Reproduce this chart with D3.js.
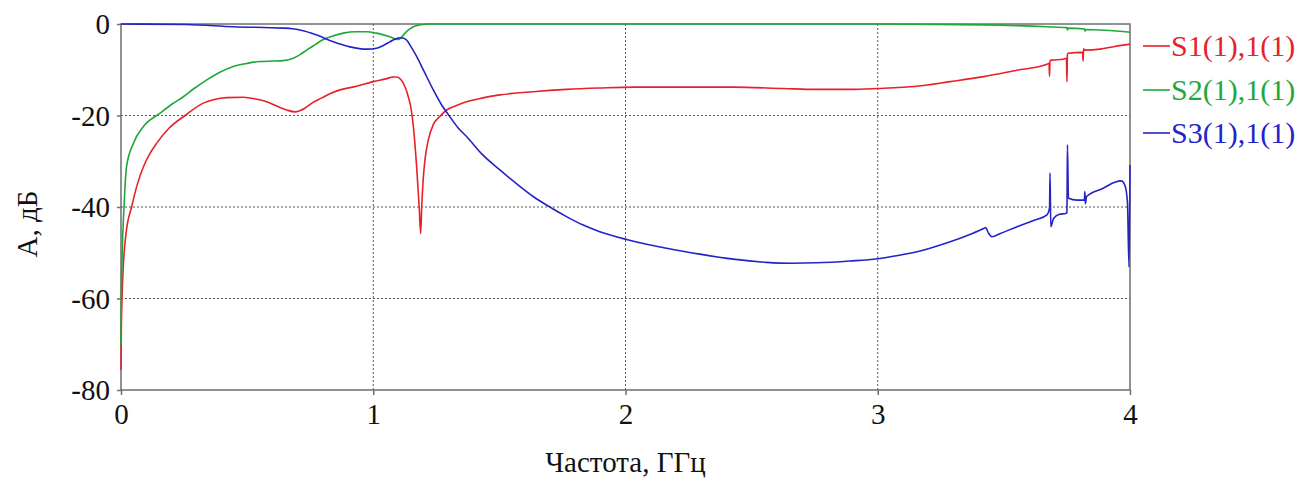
<!DOCTYPE html>
<html lang="ru">
<head>
    <meta charset="UTF-8">
    <script src="https://cdn.jsdelivr.net/npm/d3@7"></script>
    <title>S-parameters</title>
    <style>
        body { margin: 0; background: #fff; }
        svg text { font-family: "Liberation Serif", "Times New Roman", "DejaVu Serif", "Noto Serif", serif; }
        .grid line { stroke: #555; stroke-width: 1; stroke-dasharray: 2 2; }
        .axis path, .axis line { stroke: #6e6e6e; stroke-width: 1.5; }
    </style>
</head>
<body>
    <div id="chart"></div>

    <script>
        const xTicks = [0, 1, 2, 3, 4];
        const yTicks = [0, -20, -40, -60, -80];

        const seriesNames = ["S1(1),1(1)", "S2(1),1(1)", "S3(1),1(1)"];
        const seriesColors = ["#e8202a", "#1fa83a", "#2323c8"];

        // frequency (GHz), amplitude (dB)
        const s1 = [
            [0, -75.6], [0.001, -68], [0.004, -60], [0.009, -53], [0.02, -45.8], [0.042, -40],
            [0.065, -35], [0.089, -31.2], [0.115, -28.3], [0.141, -26.1], [0.19, -22.8],
            [0.254, -20], [0.326, -17.3], [0.37, -16.5], [0.419, -16.1], [0.485, -16.0],
            [0.535, -16.4], [0.577, -17.0], [0.62, -18.0], [0.657, -18.8], [0.69, -19.2],
            [0.729, -18.4], [0.76, -17.2], [0.795, -16.2], [0.83, -15.2], [0.868, -14.4],
            [0.934, -13.6], [1.0, -12.6], [1.05, -12.0], [1.079, -11.6], [1.092, -11.6],
            [1.11, -12.2], [1.125, -13.6], [1.139, -15.9], [1.15, -18.5], [1.159, -22.4],
            [1.172, -31.2], [1.182, -39.9], [1.188, -45.8], [1.192, -40], [1.198, -34],
            [1.205, -29.7], [1.218, -25.4], [1.238, -22.0], [1.264, -20.2], [1.291, -18.8],
            [1.33, -17.8], [1.37, -17.0], [1.43, -16.2], [1.502, -15.5], [1.634, -14.8],
            [1.766, -14.3], [1.898, -14.0], [2.031, -13.8], [2.229, -13.8], [2.427, -13.8],
            [2.625, -14.1], [2.757, -14.3], [2.889, -14.3], [3.0, -14.1], [3.155, -13.6],
            [3.287, -12.6], [3.42, -11.5], [3.551, -10.1], [3.671, -8.8], [3.679, -8.6],
            [3.681, -11.4], [3.683, -8.0], [3.689, -7.9], [3.735, -7.7], [3.748, -7.5],
            [3.75, -12.6], [3.752, -6.6], [3.755, -6.4], [3.812, -6.2], [3.814, -8.1],
            [3.816, -5.4], [3.82, -5.7], [3.881, -5.5], [3.94, -4.9], [4.0, -4.4]
        ];
        const s2 = [
            [0, -70.2], [0.001, -60.3], [0.004, -51.6], [0.012, -40], [0.022, -31.2],
            [0.049, -26.1], [0.089, -22.4], [0.155, -19.5], [0.2, -17.6], [0.247, -15.9],
            [0.29, -14.1], [0.34, -12.2], [0.39, -10.6], [0.445, -9.3], [0.5, -8.6],
            [0.551, -8.2], [0.6, -8.1], [0.643, -8.0], [0.683, -7.5], [0.71, -6.7],
            [0.736, -5.7], [0.77, -4.5], [0.802, -3.4], [0.84, -2.6], [0.881, -2.0],
            [0.93, -1.7], [0.974, -1.7], [1.013, -2.0], [1.066, -2.8], [1.099, -3.4],
            [1.112, -2.9], [1.126, -2.0], [1.142, -1.2], [1.159, -0.6], [1.18, -0.25],
            [1.198, -0.1], [1.225, 0], [2.0, 0], [3.0, 0], [3.11, -0.05], [3.42, -0.2],
            [3.671, -0.6], [3.75, -0.8], [3.752, -1.3], [3.754, -0.9], [3.82, -1.1],
            [3.822, -1.6], [3.824, -1.2], [4.0, -1.8]
        ];
        const s3 = [
            [0, 0], [0.26, -0.1], [0.445, -0.6], [0.643, -0.9], [0.68, -1.05], [0.709, -1.3],
            [0.776, -2.4], [0.842, -3.9], [0.908, -5.0], [0.974, -5.5], [1.013, -5.3],
            [1.04, -4.7], [1.066, -3.9], [1.09, -3.2], [1.106, -3.0], [1.12, -3.1],
            [1.132, -3.5], [1.15, -5.0], [1.172, -7.1], [1.2, -10.2], [1.238, -14.4],
            [1.27, -17.6], [1.304, -20.3], [1.335, -22.6], [1.37, -24.6], [1.43, -28.4],
            [1.502, -31.9], [1.57, -35.0], [1.634, -37.7], [1.7, -40.0], [1.766, -42.1],
            [1.83, -43.9], [1.898, -45.4], [2.004, -47.1], [2.08, -48.1], [2.163, -49.0],
            [2.295, -50.3], [2.427, -51.4], [2.559, -52.1], [2.66, -52.3], [2.757, -52.2],
            [2.889, -51.8], [3.0, -51.3], [3.08, -50.6], [3.155, -49.8], [3.22, -48.8],
            [3.287, -47.6], [3.36, -46.1], [3.42, -44.7], [3.427, -44.5], [3.44, -45.8],
            [3.453, -46.5], [3.486, -45.8], [3.552, -44.3], [3.62, -42.9], [3.671, -41.7],
            [3.681, -40.2], [3.683, -32.6], [3.686, -44.3], [3.697, -42.5], [3.72, -41.6],
            [3.745, -41.4], [3.75, -41.2], [3.752, -26.4], [3.756, -38.1], [3.79, -38.5],
            [3.819, -38.5], [3.821, -36.6], [3.823, -39.3], [3.828, -37.7], [3.894, -35.9],
            [3.94, -34.6], [3.965, -34.3], [3.98, -35.3], [3.99, -39], [3.996, -53.1],
            [4.0, -30.8]
        ];

        const allSeries = [s1, s2, s3];

        const width = 1307, height = 481;
        const margin = { top: 24, right: 177, bottom: 91, left: 121 };
        const plotW = width - margin.left - margin.right;
        const plotH = height - margin.top - margin.bottom;
        const font = "'Liberation Serif', 'Times New Roman', 'DejaVu Serif', serif";

        const svg = d3.select("#chart").append("svg")
            .attr("width", width)
            .attr("height", height)
            .attr("font-family", font);

        const g = svg.append("g")
            .attr("transform", `translate(${margin.left},${margin.top})`);

        const x = d3.scaleLinear().domain([0, 4]).range([0, plotW]);
        const y = d3.scaleLinear().domain([-80, 0]).range([plotH, 0]);

        // dotted grid
        g.append("g").attr("class", "grid")
            .selectAll("line")
            .data(xTicks.slice(1, -1))
            .enter().append("line")
            .attr("x1", d => x(d)).attr("x2", d => x(d))
            .attr("y1", 0).attr("y2", plotH);
        g.append("g").attr("class", "grid")
            .selectAll("line")
            .data(yTicks.slice(1, -1))
            .enter().append("line")
            .attr("x1", 0).attr("x2", plotW)
            .attr("y1", d => y(d)).attr("y2", d => y(d));

        // frame
        g.append("rect")
            .attr("width", plotW).attr("height", plotH)
            .attr("fill", "none")
            .attr("stroke", "#6e6e6e")
            .attr("stroke-width", 1.5);

        const fmt = d => String(d);
        const xAxis = g.append("g").attr("class", "axis")
            .attr("transform", `translate(0,${plotH})`)
            .call(d3.axisBottom(x).tickValues(xTicks).tickFormat(fmt).tickSize(5).tickPadding(8));
        const yAxis = g.append("g").attr("class", "axis")
            .call(d3.axisLeft(y).tickValues(yTicks).tickFormat(fmt).tickSize(4).tickPadding(7));

        [xAxis, yAxis].forEach(a => {
            a.attr("font-family", font).attr("font-size", 29);
            a.select(".domain").remove();
            a.selectAll("text").attr("fill", "#111");
        });
        yAxis.selectAll("text").attr("dy", "0.34em");

        const line = d3.line()
            .x(d => x(d[0]))
            .y(d => y(d[1]))
            .curve(d3.curveMonotoneX);

        g.append("g")
            .selectAll("path")
            .data(allSeries)
            .enter().append("path")
            .attr("d", line)
            .attr("fill", "none")
            .attr("stroke", (d, i) => seriesColors[i])
            .attr("stroke-width", 1.6)
            .attr("stroke-linejoin", "round");

        // axis titles
        svg.append("text")
            .attr("x", margin.left + plotW / 2)
            .attr("y", 472)
            .attr("text-anchor", "middle")
            .attr("fill", "#111")
            .attr("font-size", 29)
            .text("Частота, ГГц");

        svg.append("text")
            .attr("transform", "translate(37,224) rotate(-90)")
            .attr("text-anchor", "middle")
            .attr("fill", "#111")
            .attr("font-size", 29)
            .text("А, дБ");

        // legend
        const legend = svg.append("g")
            .attr("transform", `translate(${margin.left + plotW + 13},0)`);
        const rowY = [46, 90, 133];
        seriesNames.forEach((name, i) => {
            legend.append("line")
                .attr("x1", 0).attr("x2", 27)
                .attr("y1", rowY[i]).attr("y2", rowY[i])
                .attr("stroke", seriesColors[i])
                .attr("stroke-width", 1.6);
            legend.append("text")
                .attr("x", 28)
                .attr("y", rowY[i])
                .attr("dy", "0.34em")
                .attr("fill", seriesColors[i])
                .attr("font-size", 30)
                .text(name);
        });
    </script>
</body>
</html>
